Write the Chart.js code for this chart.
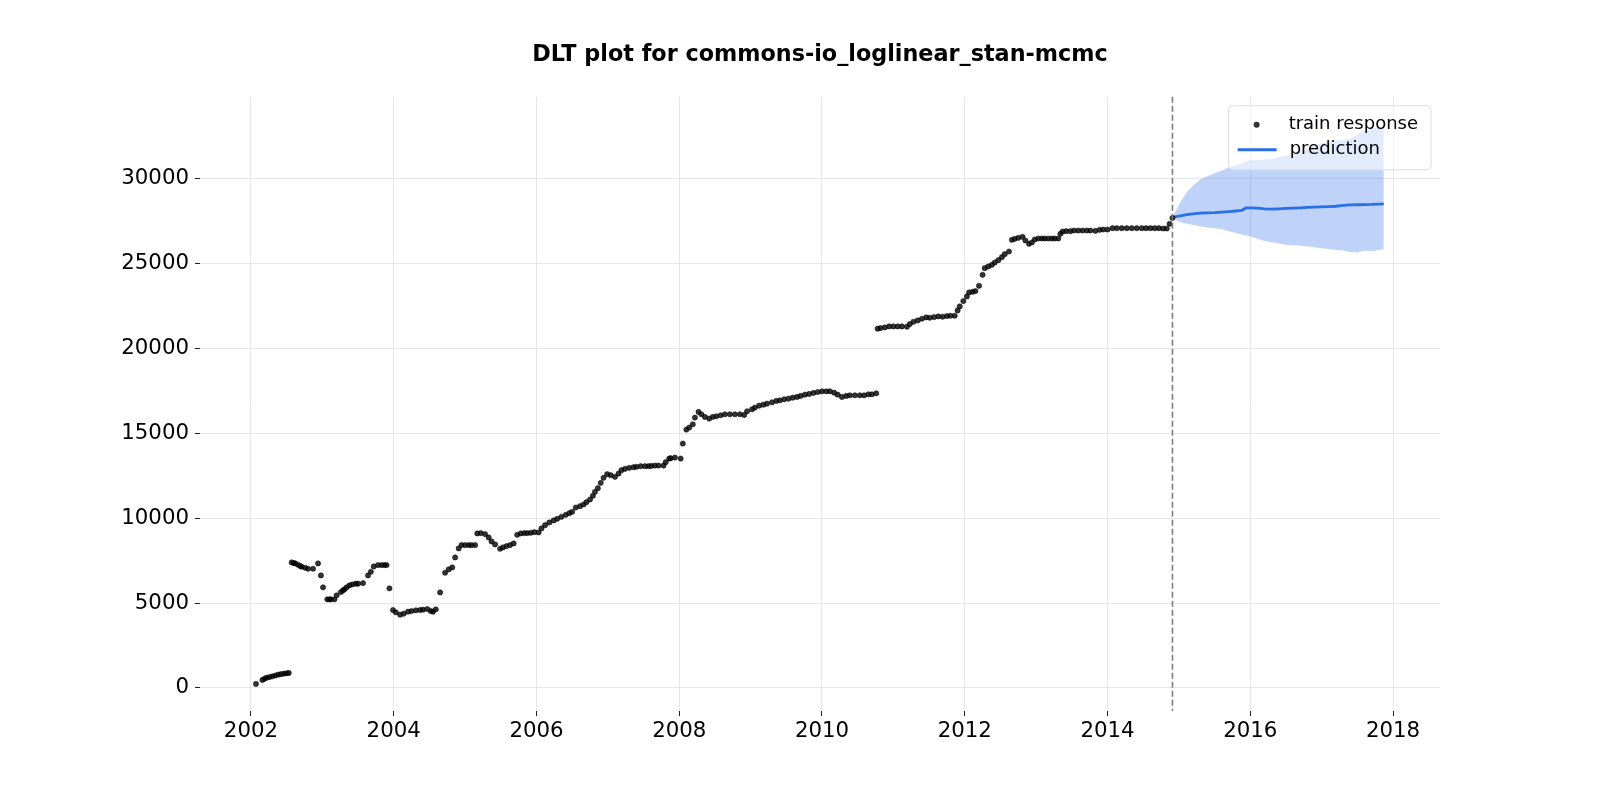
<!DOCTYPE html>
<html>
<head>
<meta charset="utf-8">
<script src="https://cdn.jsdelivr.net/npm/chart.js@4.4.1/dist/chart.umd.min.js"></script>
<style>
html,body{margin:0;padding:0;background:#fff;}
#wrap{width:1600px;height:800px;position:relative;}
</style>
</head>
<body>
<div id="wrap"><canvas id="c"></canvas></div>
<script>
const chartTitle = 'DLT plot for commons-io_loglinear_stan-mcmc';
const legendLabels = ['train response', 'prediction'];

const trainYears = [
  2002.07,2002.16,2002.19,2002.22,2002.26,2002.30,2002.34,2002.38,2002.42,2002.46,2002.50,2002.53,
  2002.57,2002.60,2002.62,2002.66,2002.69,2002.71,2002.76,2002.80,2002.87,2002.94,2002.98,2003.01,
  2003.07,2003.10,2003.12,2003.17,2003.20,2003.26,2003.29,2003.31,2003.34,2003.38,2003.42,2003.47,
  2003.50,2003.57,2003.64,2003.68,2003.72,2003.78,2003.83,2003.87,2003.90,2003.94,2003.99,2004.03,
  2004.09,2004.14,2004.20,2004.25,2004.31,2004.37,2004.41,2004.47,2004.52,2004.55,2004.59,2004.65,
  2004.72,2004.77,2004.82,2004.86,2004.91,2004.95,2005.00,2005.05,2005.09,2005.14,2005.17,2005.22,
  2005.28,2005.33,2005.37,2005.42,2005.49,2005.53,2005.58,2005.63,2005.68,2005.73,2005.78,2005.83,
  2005.87,2005.92,2005.97,2006.03,2006.07,2006.12,2006.18,2006.24,2006.29,2006.35,2006.41,2006.46,
  2006.50,2006.55,2006.61,2006.66,2006.70,2006.75,2006.79,2006.82,2006.86,2006.90,2006.94,2006.99,
  2007.04,2007.10,2007.15,2007.19,2007.24,2007.30,2007.36,2007.40,2007.46,2007.52,2007.57,2007.61,
  2007.66,2007.71,2007.78,2007.81,2007.86,2007.88,2007.94,2008.02,2008.05,2008.10,2008.14,2008.19,
  2008.22,2008.27,2008.31,2008.36,2008.42,2008.47,2008.52,2008.58,2008.64,2008.71,2008.78,2008.85,
  2008.91,2008.95,2009.02,2009.06,2009.12,2009.18,2009.23,2009.30,2009.36,2009.41,2009.47,2009.53,
  2009.59,2009.65,2009.70,2009.76,2009.82,2009.88,2009.94,2010.00,2010.06,2010.11,2010.17,2010.22,
  2010.28,2010.34,2010.39,2010.46,2010.53,2010.59,2010.65,2010.70,2010.76,2010.78,2010.82,2010.88,
  2010.94,2011.00,2011.06,2011.12,2011.19,2011.23,2011.28,2011.34,2011.40,2011.46,2011.51,2011.57,
  2011.63,2011.69,2011.75,2011.80,2011.86,2011.90,2011.93,2011.98,2012.03,2012.06,2012.11,2012.15,
  2012.20,2012.25,2012.28,2012.33,2012.38,2012.42,2012.47,2012.52,2012.56,2012.62,2012.66,2012.70,
  2012.75,2012.81,2012.85,2012.90,2012.94,2012.98,2013.03,2013.08,2013.12,2013.17,2013.22,2013.26,
  2013.31,2013.34,2013.37,2013.42,2013.48,2013.53,2013.59,2013.65,2013.71,2013.76,2013.83,2013.89,
  2013.94,2014.00,2014.07,2014.13,2014.20,2014.27,2014.34,2014.41,2014.48,2014.54,2014.60,2014.66,
  2014.72,2014.78,2014.83,2014.87,2014.91
];
const trainValues = [
  235,470,540,600,640,680,730,780,810,840,860,880,
  7392,7350,7333,7255,7180,7137,7078,7020,7020,7333,6627,5922,
  5216,5216,5216,5216,5451,5647,5750,5804,5922,6039,6098,6137,
  6137,6176,6627,6843,7157,7235,7235,7235,7235,5863,4588,4451,
  4314,4373,4490,4529,4569,4590,4608,4647,4529,4490,4627,5627,
  6784,6980,7098,7686,8216,8412,8412,8412,8412,8412,9098,9118,
  9059,8863,8627,8451,8196,8275,8353,8412,8510,9020,9098,9118,
  9118,9137,9176,9157,9392,9588,9745,9863,9961,10078,10196,10294,
  10373,10627,10706,10804,10941,11098,11314,11549,11765,12078,12373,12588,
  12529,12431,12627,12824,12902,12961,13000,13020,13059,13059,13059,13078,
  13098,13098,13098,13294,13510,13529,13569,13510,14392,15216,15333,15529,
  15922,16255,16118,15961,15863,15961,16000,16059,16118,16118,16118,16118,
  16078,16294,16412,16510,16627,16686,16745,16824,16902,16941,17000,17039,
  17098,17137,17196,17275,17314,17373,17431,17471,17471,17471,17392,17275,
  17137,17196,17235,17235,17235,17235,17294,17294,17353,21157,21196,21235,
  21294,21294,21294,21294,21275,21431,21569,21647,21745,21824,21804,21843,
  21882,21863,21902,21922,21922,22235,22471,22784,23059,23294,23333,23373,
  23686,24333,24725,24824,24922,25059,25196,25373,25549,25706,26392,26451,
  26510,26569,26353,26157,26235,26412,26471,26471,26471,26471,26471,26471,
  26471,26745,26882,26902,26902,26941,26941,26941,26941,26941,26922,26980,
  27000,27000,27078,27078,27078,27078,27078,27078,27078,27078,27078,27078,
  27078,27060,27060,27333,27686
];

const forecastYears = [2014.92,2015.02,2015.11,2015.2,2015.3,2015.39,2015.5,2015.6,2015.7,2015.8,2015.88,2015.94,
  2016.0,2016.1,2016.2,2016.3,2016.4,2016.5,2016.6,2016.7,2016.8,2016.9,2017.0,2017.1,2017.2,2017.3,2017.4,
  2017.5,2017.6,2017.7,2017.8,2017.87];
const predValues = [27725,27800,27880,27920,27960,27980,28000,28030,28060,28090,28120,28270,
  28275,28260,28220,28200,28220,28240,28255,28275,28300,28315,28330,28350,28370,28420,28450,
  28460,28470,28480,28500,28510];
const upperValues = [27800,28600,29200,29600,29940,30130,30320,30480,30650,30780,30900,31040,
  31080,31100,31130,31160,31260,31350,31480,31600,31780,31950,32100,32180,32240,32280,32340,
  32600,32830,32950,33020,33020];
const lowerValues = [27650,27440,27340,27270,27200,27140,27080,27030,26900,26800,26700,26650,
  26600,26450,26320,26250,26170,26110,26080,26060,26000,25960,25900,25850,25800,25760,25680,
  25640,25760,25720,25800,25820];

const splitYear = 2014.91;
const xTickValues = [2002,2004,2006,2008,2010,2012,2014,2016,2018];
const yTickValues = [0,5000,10000,15000,20000,25000,30000];
const xRange = [2001.286, 2018.658];
const yRange = [-1360, 34820];

const FONT = 'DejaVu Sans';
const PRED_COLOR = '#2a6ee8';
const BAND_COLOR = 'rgba(42,110,232,0.3)';
const POINT_COLOR = 'rgba(0,0,0,0.8)';
const GRID_COLOR = '#e6e6e6';

const toXY = (xs, ys) => xs.map((x, i) => ({x: x, y: ys[i]}));

const overlay = {
  id: 'overlay',
  afterDatasetsDraw(chart) {
    const ctx = chart.ctx, ca = chart.chartArea;
    const x = chart.scales.x.getPixelForValue(splitYear);
    ctx.save();
    ctx.strokeStyle = '#7f7f7f';
    ctx.lineWidth = 1.6;
    ctx.setLineDash([6, 3]);
    ctx.beginPath();
    ctx.moveTo(x, ca.top);
    ctx.lineTo(x, ca.bottom);
    ctx.stroke();
    ctx.restore();
  },
  afterDraw(chart) {
    const ctx = chart.ctx, ca = chart.chartArea;
    ctx.save();
    ctx.font = '18px "' + FONT + '"';
    let tw = 0;
    legendLabels.forEach(l => { tw = Math.max(tw, ctx.measureText(l).width); });
    const w = 60 + tw + 13, h = 64;
    const right = ca.right - 9, top = ca.top + 9, left = right - w;
    const r = 4;
    ctx.beginPath();
    ctx.moveTo(left + r, top);
    ctx.arcTo(right, top, right, top + h, r);
    ctx.arcTo(right, top + h, left, top + h, r);
    ctx.arcTo(left, top + h, left, top, r);
    ctx.arcTo(left, top, right, top, r);
    ctx.closePath();
    ctx.fillStyle = 'rgba(255,255,255,0.55)';
    ctx.fill();
    ctx.strokeStyle = '#dcdcdc';
    ctx.lineWidth = 1;
    ctx.stroke();
    const y1 = top + 19, y2 = top + 44;
    ctx.fillStyle = POINT_COLOR;
    ctx.beginPath();
    ctx.arc(left + 28, y1, 3, 0, Math.PI * 2);
    ctx.fill();
    ctx.strokeStyle = PRED_COLOR;
    ctx.lineWidth = 2.8;
    ctx.beginPath();
    ctx.moveTo(left + 9, y2);
    ctx.lineTo(left + 48, y2);
    ctx.stroke();
    ctx.fillStyle = '#000';
    ctx.textBaseline = 'middle';
    ctx.textAlign = 'left';
    ctx.fillText(legendLabels[0], left + 60, y1);
    ctx.fillText(legendLabels[1], left + 61, y2);
    ctx.restore();
  }
};

new Chart(document.getElementById('c'), {
  type: 'scatter',
  data: {
    datasets: [
      {
        label: legendLabels[0],
        data: toXY(trainYears, trainValues),
        backgroundColor: POINT_COLOR,
        borderColor: 'rgba(0,0,0,0.85)',
        borderWidth: 0.6,
        pointRadius: 2.6,
        order: 0
      },
      {
        label: 'upper',
        data: toXY(forecastYears, upperValues),
        showLine: true,
        pointRadius: 0,
        borderColor: 'rgba(0,0,0,0)',
        borderWidth: 0,
        backgroundColor: BAND_COLOR,
        fill: '+1',
        order: 3
      },
      {
        label: 'lower',
        data: toXY(forecastYears, lowerValues),
        showLine: true,
        pointRadius: 0,
        borderColor: 'rgba(0,0,0,0)',
        borderWidth: 0,
        fill: false,
        order: 2
      },
      {
        label: legendLabels[1],
        data: toXY(forecastYears, predValues),
        showLine: true,
        pointRadius: 0,
        borderColor: PRED_COLOR,
        borderWidth: 2.8,
        fill: false,
        order: 1
      }
    ]
  },
  options: {
    responsive: true,
    maintainAspectRatio: false,
    animation: false,
    layout: {padding: {left: 0, right: 160, top: 0, bottom: 0}},
    plugins: {
      legend: {display: false},
      tooltip: {enabled: false},
      title: {
        display: true,
        text: chartTitle,
        fullSize: false,
        color: '#000',
        font: {family: FONT, size: 22.3, weight: 'bold'},
        padding: {top: 42, bottom: 28}
      }
    },
    scales: {
      x: {
        type: 'linear',
        position: 'bottom',
        min: xRange[0],
        max: xRange[1],
        border: {display: false},
        grid: {color: GRID_COLOR, lineWidth: 1, drawTicks: true, tickLength: 5, tickColor: '#222', tickWidth: 1},
        ticks: {
          color: '#000',
          font: {family: FONT, size: 21.3},
          padding: 3,
          maxRotation: 0,
          autoSkip: false,
          callback: v => String(v)
        },
        afterBuildTicks: s => { s.ticks = xTickValues.map(v => ({value: v})); },
        afterFit: s => { s.height = 89; }
      },
      y: {
        type: 'linear',
        min: yRange[0],
        max: yRange[1],
        border: {display: false},
        grid: {color: GRID_COLOR, lineWidth: 1, drawTicks: true, tickLength: 5, tickColor: '#222', tickWidth: 1},
        ticks: {
          color: '#000',
          font: {family: FONT, size: 21.3},
          padding: 6,
          autoSkip: false,
          callback: v => String(v)
        },
        afterBuildTicks: s => { s.ticks = yTickValues.map(v => ({value: v})); },
        afterFit: s => { s.width = 200; }
      }
    }
  },
  plugins: [overlay]
});
</script>
</body>
</html>
